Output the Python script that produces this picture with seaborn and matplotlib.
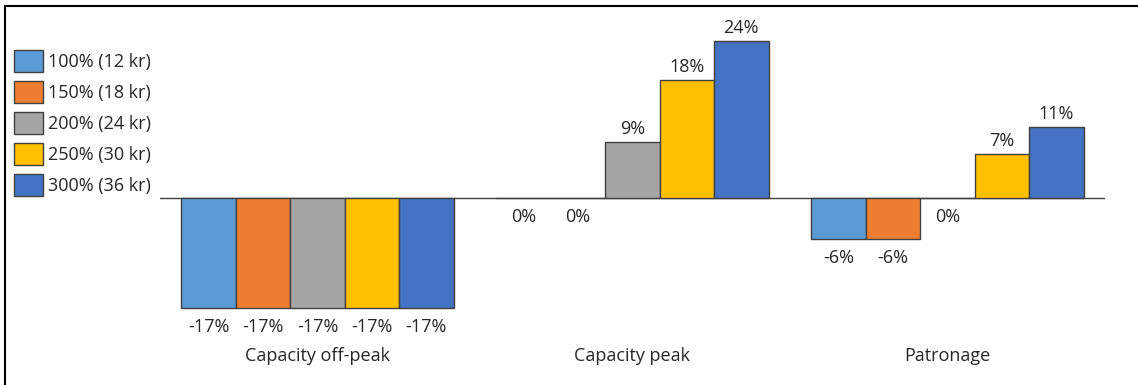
import pandas as pd
import seaborn as sns
import matplotlib.pyplot as plt
from matplotlib.lines import Line2D

sns.set_theme(style="white")
plt.rcParams['font.family'] = ['Open Sans', 'DejaVu Sans']

metrics = ["Capacity off-peak", "Capacity peak", "Patronage"]
scenarios = ["100% (12 kr)", "150% (18 kr)", "200% (24 kr)", "250% (30 kr)", "300% (36 kr)"]
colors = ["#5B9BD5", "#ED7D31", "#A5A5A5", "#FFC000", "#4472C4"]

# change in % per scenario, one list per metric
off_peak = [-16.9, -16.9, -16.9, -16.9, -16.9]
peak = [0.0, 0.0, 8.6, 18.2, 24.2]
patronage = [-6.3, -6.3, 0.0, 6.8, 10.9]

df = pd.DataFrame({
    "metric": [m for m in metrics for _ in scenarios],
    "scenario": scenarios * len(metrics),
    "value": off_peak + peak + patronage,
})

W, H = 1138, 385
fs = 13
txt_color = "#262626"
fig = plt.figure(figsize=(W / 100, H / 100), dpi=100)
ax_top, ax_bot = 20, 330
ax = fig.add_axes([160 / W, 1 - ax_bot / H, 945 / W, (ax_bot - ax_top) / H])

sns.barplot(data=df, x="metric", y="value", hue="scenario", palette=colors, saturation=1,
            width=0.864, edgecolor="#404040", linewidth=1.0, gap=0, ax=ax,
            legend=True)

scale = 6.5  # px per percent
ax.set_ylim(-(ax_bot - 198) / scale, (198 - ax_top) / scale)
ax.set_xlim(-0.5, 2.5)

# value labels: positive above, zero and negative below (as in Excel)
for container in ax.containers:
    for bar, v in zip(container, container.datavalues):
        above = v > 0
        ax.annotate(f"{round(v):d}%", (bar.get_x() + bar.get_width() / 2, v),
                    xytext=(0, 3 if above else -7), textcoords="offset points",
                    ha="center", va="bottom" if above else "top",
                    fontsize=fs, color=txt_color)

ax.axhline(0, color="#404040", linewidth=1.0, zorder=0)
for s in ax.spines.values():
    s.set_visible(False)
ax.set_yticks([])
ax.set_xlabel("")
ax.set_ylabel("")
ax.tick_params(axis="x", length=0, pad=12, labelsize=fs, labelcolor=txt_color)

leg = ax.legend(loc="upper left", bbox_to_anchor=(14 / W, 1 - 50 / H), bbox_transform=fig.transFigure,
                frameon=False, fontsize=fs, handlelength=1.6, handleheight=1.5,
                labelspacing=0.5, handletextpad=0.3, borderpad=0, borderaxespad=0)
for t in leg.get_texts():
    t.set_color(txt_color)

# frame lines (top and left edges visible)
fig.add_artist(Line2D([5 / W, 1], [1 - 6 / H, 1 - 6 / H], transform=fig.transFigure, color="black", linewidth=1.5))
fig.add_artist(Line2D([5 / W, 5 / W], [0, 1 - 6 / H], transform=fig.transFigure, color="black", linewidth=1.5))

fig.savefig("out.png", dpi=100, facecolor="white")
